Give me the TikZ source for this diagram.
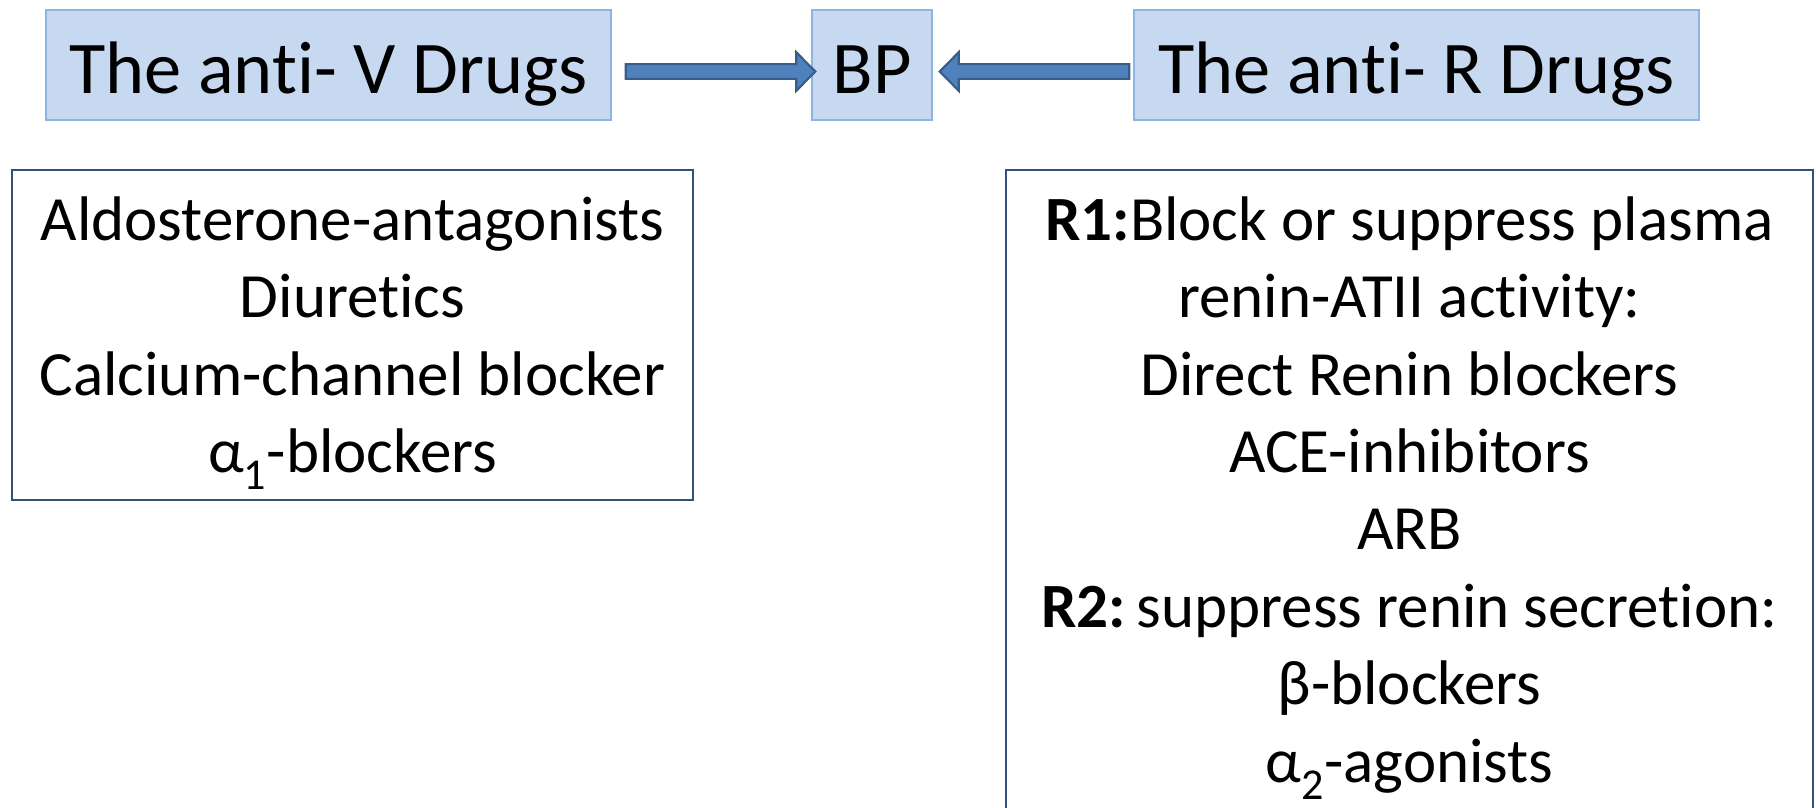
\documentclass[tikz,border=0pt]{standalone}
\usepackage{fontspec}
\setmainfont[Ligatures=NoCommon]{Carlito}
\usetikzlibrary{calc}
\definecolor{headfill}{HTML}{C6D9F1}
\definecolor{headline}{HTML}{8EB4E3}
\definecolor{arrowfill}{HTML}{4F81BD}
\definecolor{arrowline}{HTML}{385D8A}
\definecolor{listline}{HTML}{34507A}
\begin{document}
\begin{tikzpicture}[x=0.75pt,y=-0.75pt,
  headbox/.style={draw=headline, fill=headfill, line width=1.1pt, inner sep=0pt,
    minimum height=82.5pt, text height=52pt, text depth=10pt,
    font=\fontsize{55.8}{67}\selectfont},
  listbox/.style={draw=listline, line width=1.6pt, inner sep=0pt},
  listtext/.style={align=center, inner sep=0pt, anchor=north,
    font=\fontsize{47.25}{58.05}\selectfont},
  blockarrow/.style={draw=arrowline, fill=arrowfill, line width=1.6pt, line join=miter}]
\useasboundingbox (0,0) rectangle (1816,807);
\clip (0,0) rectangle (1816,807);

% header boxes
\node[headbox, minimum width=423.75pt] (vtop) at (328.5,65) {The anti- V Drugs};
\node[headbox, minimum width=90pt] (bp) at (872,65) {BP};
\node[headbox, minimum width=423.75pt] (rtop) at (1416.5,65) {The anti- R Drugs};

% list boxes
\node[listbox, minimum width=510.75pt, minimum height=247.5pt] (vlist) at (352.5,335) {};
\node[listbox, minimum width=605.25pt, minimum height=517.5pt] (rlist) at (1409.5,515) {};

\node[listtext] (vtext) at (352.5,186.67) {\rule{0pt}{40pt}Aldosterone-antagonists\\
  Diuretics\\ Calcium-channel blocker\\ α\textsubscript{1}-blockers};
\node[listtext] (rtext) at (1409.5,186.67) {\rule{0pt}{40pt}\textbf{R1:}Block or suppress plasma\\
  renin-ATII activity:\\ Direct Renin blockers\\ ACE-inhibitors\\ ARB\\
  \textbf{R2:}\,suppress renin secretion:\\ β-blockers\\ α\textsubscript{2}-agonists};

% block arrows pointing at BP
\coordinate (a1s) at ($(vtop.east)+(14,6.5)$);
\coordinate (a1e) at ($(bp.west)+(4,6.5)$);
\draw[blockarrow] ([yshift=5.5pt]a1s) -- ([xshift=-14.25pt,yshift=5.5pt]a1e)
  -- ([xshift=-14.25pt,yshift=14.5pt]a1e) -- (a1e)
  -- ([xshift=-14.25pt,yshift=-14.5pt]a1e) -- ([xshift=-14.25pt,yshift=-5.5pt]a1e)
  -- ([yshift=-5.5pt]a1s) -- cycle;

\coordinate (a2s) at ($(rtop.west)+(-4,6.5)$);
\coordinate (a2e) at ($(bp.east)+(7,6.5)$);
\draw[blockarrow] ([yshift=5.5pt]a2s) -- ([xshift=14.25pt,yshift=5.5pt]a2e)
  -- ([xshift=14.25pt,yshift=14.5pt]a2e) -- (a2e)
  -- ([xshift=14.25pt,yshift=-14.5pt]a2e) -- ([xshift=14.25pt,yshift=-5.5pt]a2e)
  -- ([yshift=-5.5pt]a2s) -- cycle;
\end{tikzpicture}
\end{document}
